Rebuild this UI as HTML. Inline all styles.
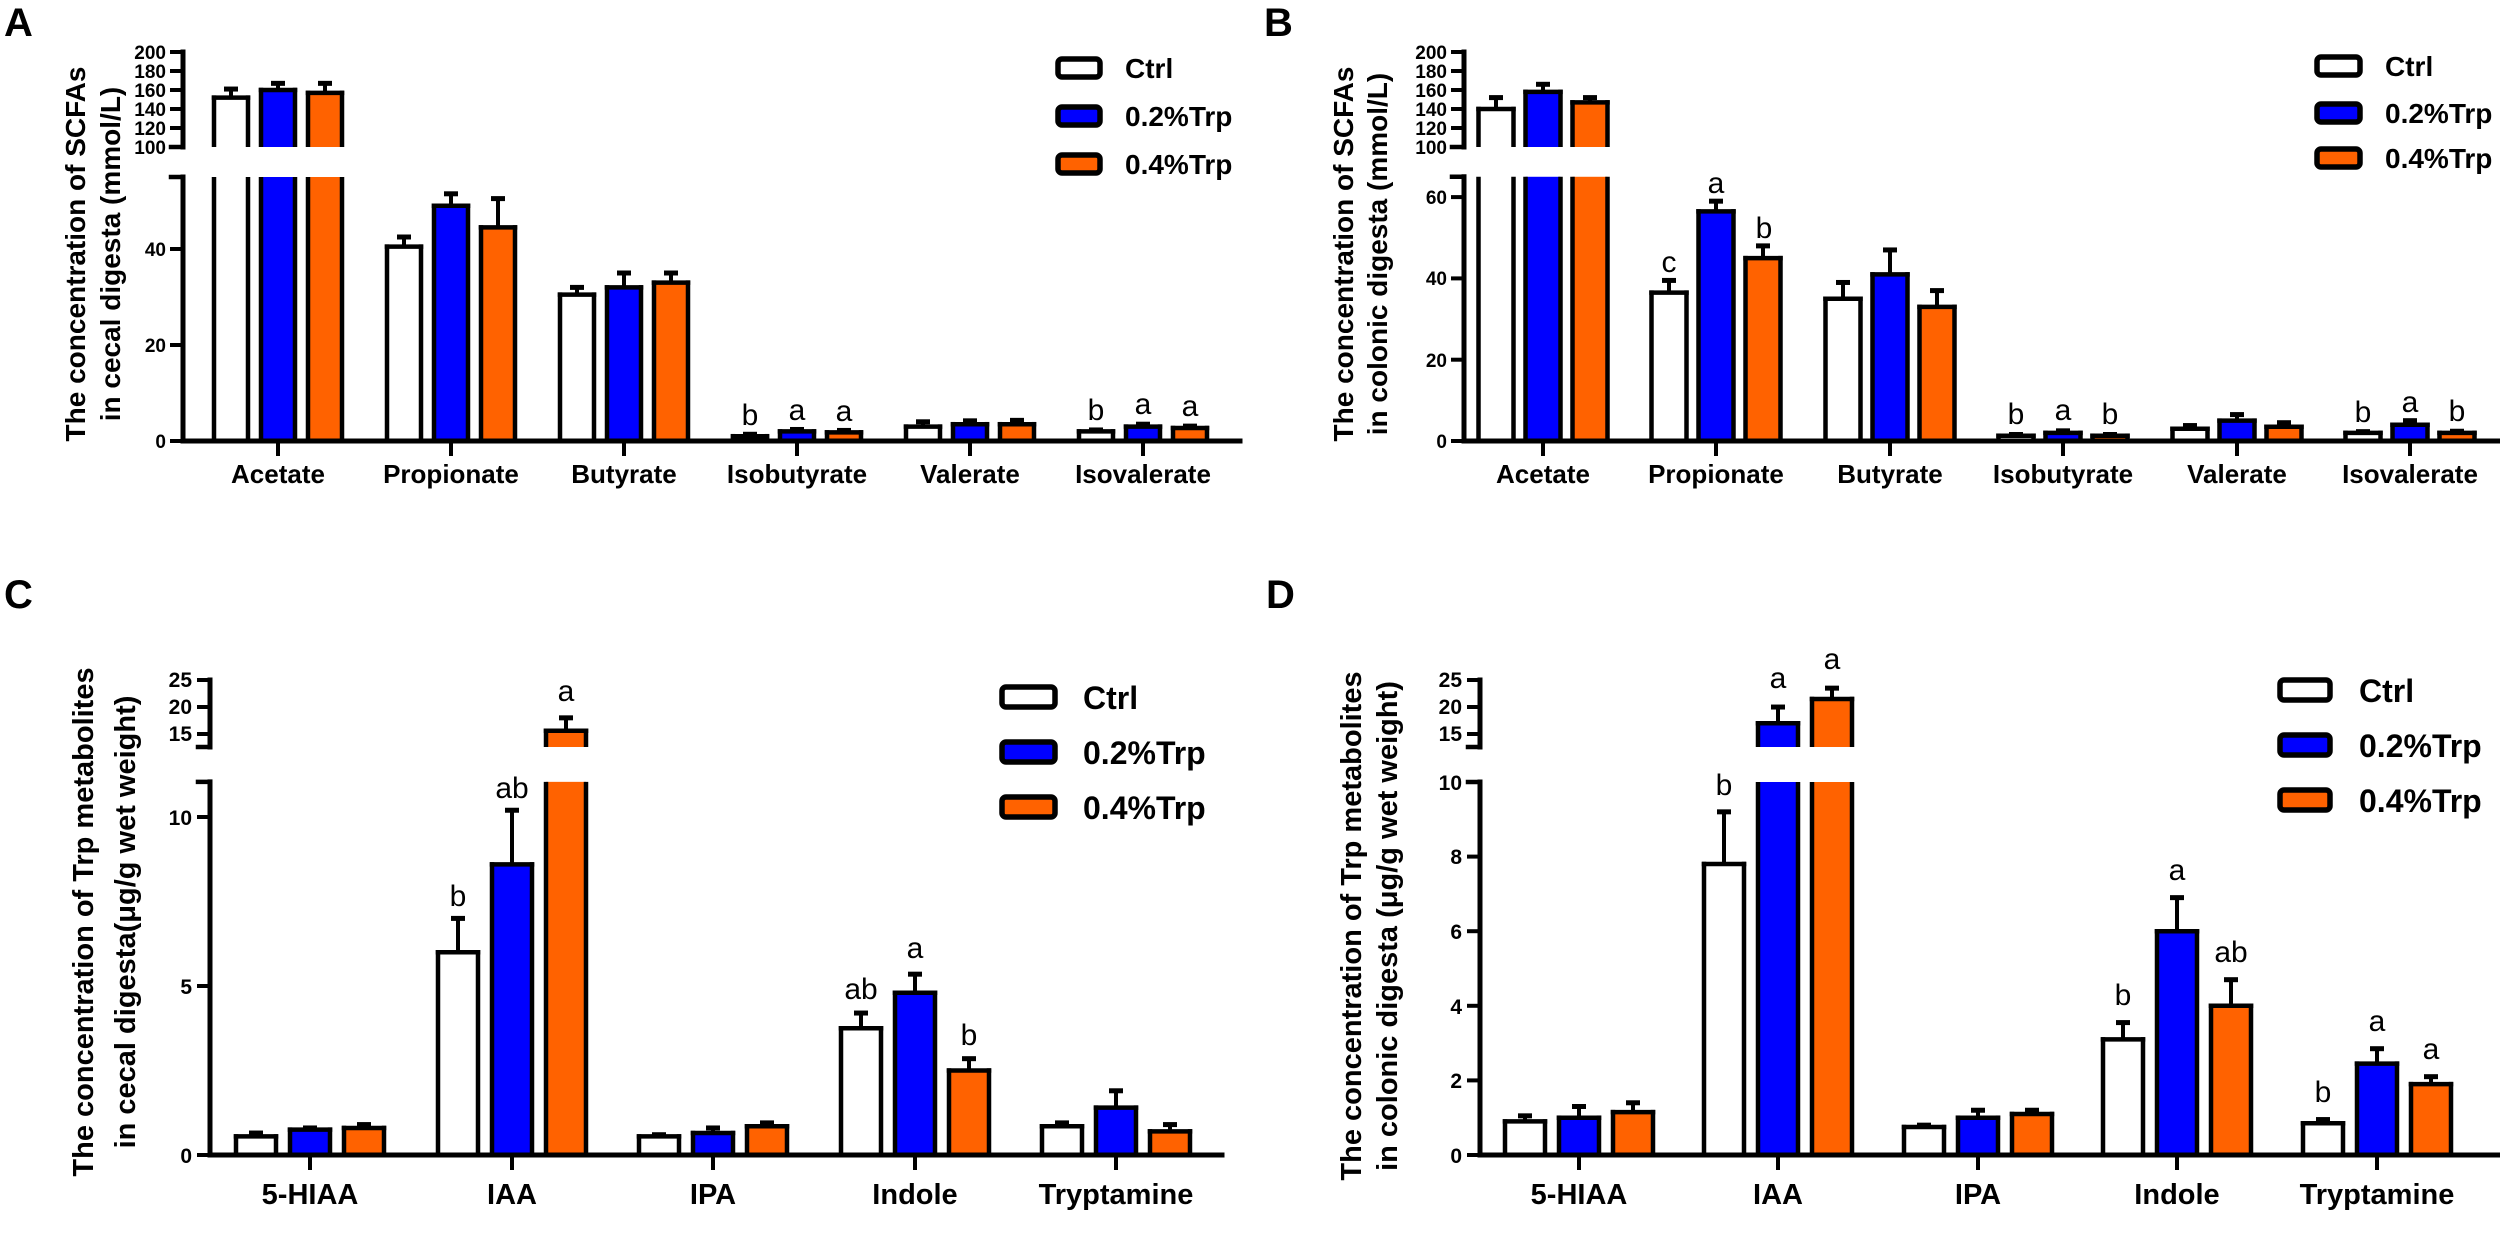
<!DOCTYPE html>
<html><head><meta charset="utf-8">
<style>
html,body{margin:0;padding:0;background:#fff;}
svg{display:block;}
text{font-family:"Liberation Sans",Arial,sans-serif;fill:#000;}
.b{font-weight:bold;}
</style></head>
<body>
<svg id="s" width="2500" height="1234" viewBox="0 0 2500 1234" xmlns="http://www.w3.org/2000/svg">
<g id="shapes"></g>
<!-- Panel letters -->
<text class="b" x="4" y="36" font-size="40">A</text>
<text class="b" x="1264" y="36" font-size="40">B</text>
<text class="b" x="4" y="608" font-size="40">C</text>
<text class="b" x="1266" y="608" font-size="40">D</text>

<!-- Y titles -->
<text class="b" font-size="28" text-anchor="middle" transform="translate(85,254) rotate(-90)">The concentration of  SCFAs</text>
<text class="b" font-size="28" text-anchor="middle" transform="translate(120,254) rotate(-90)">in cecal digesta (mmol/L)</text>
<text class="b" font-size="28" text-anchor="middle" transform="translate(1353,254) rotate(-90)">The concentration of  SCFAs</text>
<text class="b" font-size="28" text-anchor="middle" transform="translate(1387,254) rotate(-90)">in colonic digesta (mmol/L)</text>
<text class="b" font-size="29" text-anchor="middle" transform="translate(93,922) rotate(-90)">The concentration of Trp metabolites</text>
<text class="b" font-size="29" text-anchor="middle" transform="translate(135,922) rotate(-90)">in cecal digesta(μg/g wet weight)</text>
<text class="b" font-size="29" text-anchor="middle" transform="translate(1361,926) rotate(-90)">The concentration of Trp metabolites</text>
<text class="b" font-size="29" text-anchor="middle" transform="translate(1397,926) rotate(-90)">in colonic digesta (μg/g wet weight)</text>

<!-- Tick labels A -->
<g class="b" font-size="19" text-anchor="end">
<text x="166" y="59">200</text><text x="166" y="78">180</text><text x="166" y="97">160</text><text x="166" y="116">140</text><text x="166" y="135">120</text><text x="166" y="154">100</text>
<text x="166" y="448">0</text><text x="166" y="352">20</text><text x="166" y="256">40</text>
<text x="1447" y="59">200</text><text x="1447" y="78">180</text><text x="1447" y="97">160</text><text x="1447" y="116">140</text><text x="1447" y="135">120</text><text x="1447" y="154">100</text>
<text x="1447" y="448">0</text><text x="1447" y="367">20</text><text x="1447" y="285">40</text><text x="1447" y="204">60</text>
</g>
<g class="b" font-size="21" text-anchor="end">
<text x="192" y="687">25</text><text x="192" y="714">20</text><text x="192" y="741">15</text>
<text x="192" y="1163">0</text><text x="192" y="994">5</text><text x="192" y="825">10</text>
<text x="1462" y="687">25</text><text x="1462" y="714">20</text><text x="1462" y="741">15</text>
<text x="1462" y="1163">0</text><text x="1462" y="1088">2</text><text x="1462" y="1014">4</text><text x="1462" y="939">6</text><text x="1462" y="864">8</text><text x="1462" y="790">10</text>
</g>

<!-- Category labels -->
<g class="b" font-size="26" text-anchor="middle">
<text x="278" y="483">Acetate</text><text x="451" y="483">Propionate</text><text x="624" y="483">Butyrate</text><text x="797" y="483">Isobutyrate</text><text x="970" y="483">Valerate</text><text x="1143" y="483">Isovalerate</text>
<text x="1543" y="483">Acetate</text><text x="1716" y="483">Propionate</text><text x="1890" y="483">Butyrate</text><text x="2063" y="483">Isobutyrate</text><text x="2237" y="483">Valerate</text><text x="2410" y="483">Isovalerate</text>
</g>
<g class="b" font-size="29" text-anchor="middle">
<text x="310" y="1204">5-HIAA</text><text x="512" y="1204">IAA</text><text x="713" y="1204">IPA</text><text x="915" y="1204">Indole</text><text x="1116" y="1204">Tryptamine</text>
<text x="1579" y="1204">5-HIAA</text><text x="1778" y="1204">IAA</text><text x="1978" y="1204">IPA</text><text x="2177" y="1204">Indole</text><text x="2377" y="1204">Tryptamine</text>
</g>

<!-- Legends -->
<g class="b" font-size="28">
<text x="1125" y="78">Ctrl</text><text x="1125" y="126">0.2%Trp</text><text x="1125" y="174">0.4%Trp</text>
<text x="2385" y="76">Ctrl</text><text x="2385" y="123">0.2%Trp</text><text x="2385" y="168">0.4%Trp</text>
</g>
<g class="b" font-size="32">
<text x="1083" y="709">Ctrl</text><text x="1083" y="764">0.2%Trp</text><text x="1083" y="819">0.4%Trp</text>
<text x="2359" y="702">Ctrl</text><text x="2359" y="757">0.2%Trp</text><text x="2359" y="812">0.4%Trp</text>
</g>

<!-- Significance letters -->
<g font-size="30" text-anchor="middle">
<text x="750" y="425">b</text><text x="797" y="420">a</text><text x="844" y="421">a</text>
<text x="1096" y="420">b</text><text x="1143" y="414">a</text><text x="1190" y="416">a</text>
<text x="1669" y="272">c</text><text x="1716" y="193">a</text><text x="1764" y="238">b</text>
<text x="2016" y="424">b</text><text x="2063" y="420">a</text><text x="2110" y="424">b</text>
<text x="2363" y="422">b</text><text x="2410" y="412">a</text><text x="2457" y="421">b</text>
<text x="458" y="906">b</text><text x="512" y="798">ab</text><text x="566" y="701">a</text>
<text x="861" y="999">ab</text><text x="915" y="958">a</text><text x="969" y="1045">b</text>
<text x="1724" y="795">b</text><text x="1778" y="688">a</text><text x="1832" y="669">a</text>
<text x="2123" y="1005">b</text><text x="2177" y="880">a</text><text x="2231" y="962">ab</text>
<text x="2323" y="1102">b</text><text x="2377" y="1031">a</text><text x="2431" y="1059">a</text>
</g>
</svg>
<script>
(function(){
var g=document.getElementById('shapes'),NS='http://www.w3.org/2000/svg',LW=4.5;
var COL=['#ffffff','#0000ff','#ff6200'];
function el(t,a){var e=document.createElementNS(NS,t);for(var k in a)e.setAttribute(k,a[k]);g.appendChild(e);return e;}
function ln(x1,y1,x2,y2,w){el('line',{x1:x1,y1:y1,x2:x2,y2:y2,stroke:'#000','stroke-width':w||LW,'stroke-linecap':'square'});}
function seg(cx,w,yt,yb,c,top,bot){
  var l=cx-w/2,r=cx+w/2;
  el('rect',{x:l,y:yt,width:w,height:yb-yt,fill:c});
  el('line',{x1:l,y1:yt-(top?LW/2:0),x2:l,y2:yb,stroke:'#000','stroke-width':LW});
  el('line',{x1:r,y1:yt-(top?LW/2:0),x2:r,y2:yb,stroke:'#000','stroke-width':LW});
  if(top)ln(l,yt,r,yt);
}
function err(cx,yt,ye){ if(ye<yt-1){el('line',{x1:cx,y1:yt,x2:cx,y2:ye,stroke:'#000','stroke-width':4});el('line',{x1:cx-7,y1:ye,x2:cx+7,y2:ye,stroke:'#000','stroke-width':5});}}
function panel(P){
  var y0=P.y0;
  P.data.forEach(function(grp,i){
    var tx=P.ticks[i];
    grp.forEach(function(d,j){
      var cx=tx+(j-1)*P.off,v=d[0],e=d[1],c=COL[j];
      if(v<=P.lmax){
        var yt=y0-v*P.ls, ye=y0-(v+e)*P.ls;
        err(cx,yt,ye); seg(cx,P.bw,yt,y0,c,true,false);
      } else {
        var yl=y0-P.lmax*P.ls;
        seg(cx,P.bw,yl,y0,c,false,false);
        var yu=P.ub-(v-P.umin)*P.us, yue=P.ub-(v+e-P.umin)*P.us;
        err(cx,yu,yue); seg(cx,P.bw,yu,P.ub,c,true,false);
      }
    });
  });
  var ax=P.ax;
  ln(ax,y0,P.xend,y0,5);
  P.ticks.forEach(function(t){ln(t,y0,t,y0+13,4);});
  ln(ax,y0,ax,y0-P.lmax*P.ls,5);
  ln(ax-12,y0-P.lmax*P.ls,ax,y0-P.lmax*P.ls,4.5);
  P.lt.forEach(function(v){ln(ax-11,y0-v*P.ls,ax,y0-v*P.ls,4);});
  ln(ax,P.ub,ax,P.utop,5);
  ln(ax-12,P.ub,ax,P.ub,4.5);
  P.ut.forEach(function(y){ln(ax-11,y,ax,y,4);});
  P.leg.forEach(function(y,j){el('rect',{x:P.lx,y:y-P.lh/2,width:P.lw,height:P.lh,rx:4,fill:COL[j],stroke:'#000','stroke-width':5.5});});
}
panel({y0:441,ls:4.8,lmax:55,ub:147,umin:100,us:0.95,utop:52,ax:183,xend:1240,bw:34,off:47,
  ticks:[278,451,624,797,970,1143],lt:[0,20,40],ut:[52,71,90,109,128,147],
  lx:1058,lw:42,lh:18,leg:[68,116,164],
  data:[[[152,9],[160,7],[157,10]],[[40.5,2],[49,2.5],[44.5,6]],[[30.5,1.5],[32,3],[33,2]],
        [[1,0.4],[2,0.4],[1.8,0.4]],[[3,1],[3.5,0.7],[3.5,0.8]],[[2,0.3],[3,0.5],[2.7,0.4]]]});
panel({y0:441,ls:4.065,lmax:65,ub:147,umin:100,us:0.95,utop:52,ax:1464,xend:2500,bw:35,off:47,
  ticks:[1543,1716,1890,2063,2237,2410],lt:[0,20,40,60],ut:[52,71,90,109,128,147],
  lx:2317,lw:43,lh:18,leg:[66,113,158],
  data:[[[140,12],[158,8],[147,5]],[[36.5,3],[56.5,2.5],[45,3]],[[35,4],[41,6],[33,4]],
        [[1.3,0.3],[2,0.5],[1.3,0.3]],[[3,0.8],[5,1.5],[3.5,1]],[[2,0.3],[4,1],[2,0.4]]]});
panel({y0:1155,ls:33.8,lmax:11.04,ub:747,umin:12.6,us:5.4,utop:680,ax:210,xend:1222,bw:40,off:54,
  ticks:[310,512,713,915,1116],lt:[0,5,10],ut:[680,707,734],
  lx:1002,lw:53,lh:20,leg:[697,752,807],
  data:[[[0.55,0.1],[0.75,0.05],[0.8,0.1]],[[6,1],[8.6,1.6],[15.6,2.4]],[[0.55,0.05],[0.65,0.15],[0.85,0.1]],
        [[3.75,0.45],[4.8,0.55],[2.5,0.35]],[[0.85,0.1],[1.4,0.5],[0.7,0.2]]]});
panel({y0:1155,ls:37.3,lmax:10,ub:747,umin:12.6,us:5.4,utop:680,ax:1480,xend:2500,bw:40,off:54,
  ticks:[1579,1778,1978,2177,2377],lt:[0,2,4,6,8,10],ut:[680,707,734],
  lx:2280,lw:50,lh:20,leg:[690,745,800],
  data:[[[0.9,0.15],[1,0.3],[1.15,0.25]],[[7.8,1.4],[17,3],[21.5,2]],[[0.75,0.05],[1,0.2],[1.1,0.1]],
        [[3.1,0.45],[6,0.9],[4,0.7]],[[0.85,0.1],[2.45,0.4],[1.9,0.2]]]});
})();
</script>
</body></html>
